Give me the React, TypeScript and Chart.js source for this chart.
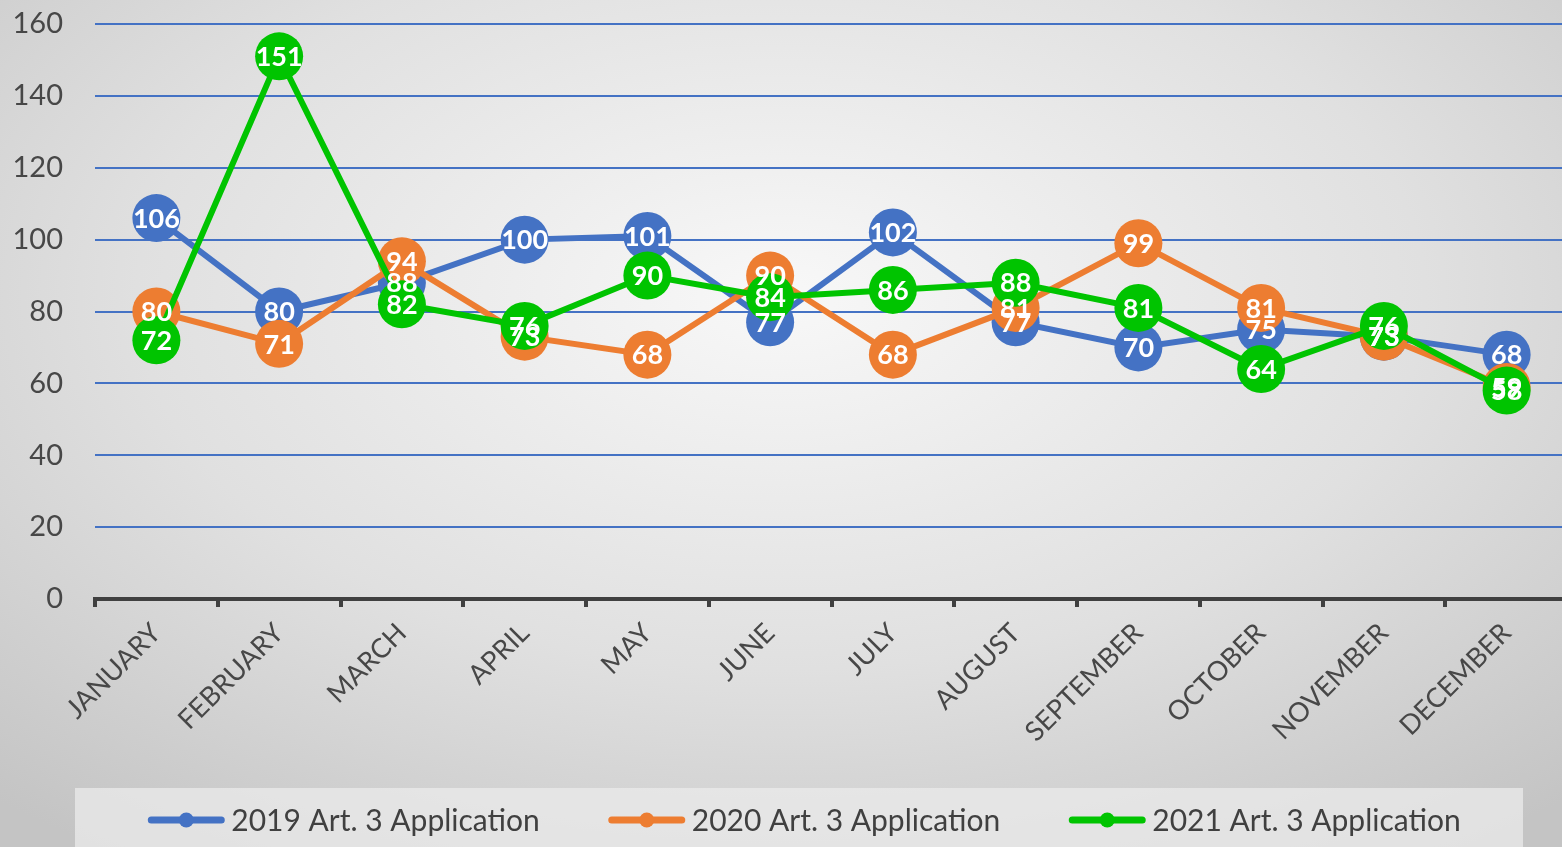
import React, { useEffect, useRef } from "react";
import { Chart, registerables } from "chart.js";

Chart.register(...registerables);

const months = ["JANUARY", "FEBRUARY", "MARCH", "APRIL", "MAY", "JUNE", "JULY", "AUGUST", "SEPTEMBER", "OCTOBER", "NOVEMBER", "DECEMBER"];
const series2019 = [106, 80, 88, 100, 101, 77, 102, 77, 70, 75, 73, 68];
const series2020 = [80, 71, 94, 73, 68, 90, 68, 81, 99, 81, 73, 59];
const series2021 = [72, 151, 82, 76, 90, 84, 86, 88, 81, 64, 76, 58];
const seriesNames = ["2019 Art. 3 Application", "2020 Art. 3 Application", "2021 Art. 3 Application"];
const seriesColors = ["#4472C4", "#ED7D31", "#00C400"];
const yMin = 0;
const yMax = 160;
const yStep = 20;

const FONT = "Lato, 'Open Sans', sans-serif";

const dataLabelPlugin = {
  id: "dataLabels",
  afterDatasetsDraw(chart: any) {
    const ctx = chart.ctx;
    ctx.save();
    ctx.font = `bold 27px ${FONT}`;
    ctx.fillStyle = "#ffffff";
    ctx.textAlign = "center";
    ctx.textBaseline = "middle";
    chart.data.datasets.forEach((ds: any, i: number) => {
      const meta = chart.getDatasetMeta(i);
      meta.data.forEach((pt: any, j: number) => {
        ctx.fillText(String(ds.data[j]), pt.x, pt.y + 1);
      });
    });
    ctx.restore();
  },
};

const legendPlugin = {
  id: "customLegend",
  afterDraw(chart: any) {
    const ctx = chart.ctx;
    ctx.save();
    ctx.fillStyle = "rgba(235,235,235,0.75)";
    ctx.fillRect(75, 788, 1448, 70);
    ctx.font = `30px ${FONT}`;
    const lineLen = 78;
    const gapLineText = 6;
    const gapItems = 68;
    const widths = chart.data.datasets.map((ds: any) => ctx.measureText(ds.label).width);
    const total = widths.reduce((a: number, w: number) => a + lineLen + gapLineText + w, 0) + gapItems * (widths.length - 1);
    let x = 804 - total / 2;
    const y = 820;
    chart.data.datasets.forEach((ds: any, i: number) => {
      ctx.strokeStyle = ds.borderColor;
      ctx.lineWidth = 7;
      ctx.lineCap = "round";
      ctx.beginPath();
      ctx.moveTo(x + 4, y);
      ctx.lineTo(x + lineLen - 4, y);
      ctx.stroke();
      ctx.fillStyle = ds.borderColor;
      ctx.beginPath();
      ctx.arc(x + lineLen / 2, y, 7.5, 0, Math.PI * 2);
      ctx.fill();
      ctx.fillStyle = "#404040";
      ctx.textAlign = "left";
      ctx.textBaseline = "middle";
      ctx.fillText(ds.label, x + lineLen + gapLineText, y + 1);
      x += lineLen + gapLineText + widths[i] + gapItems;
    });
    ctx.restore();
  },
};

export default function App() {
  const canvasRef = useRef<HTMLCanvasElement | null>(null);

  useEffect(() => {
    if (!canvasRef.current) return;
    const allSeries = [series2019, series2020, series2021];
    const chart = new Chart(canvasRef.current, {
      type: "line",
      data: {
        labels: months,
        datasets: allSeries.map((s, i) => ({
          label: seriesNames[i],
          data: s,
          borderColor: seriesColors[i],
          backgroundColor: seriesColors[i],
          pointBackgroundColor: seriesColors[i],
          pointBorderWidth: 0,
          pointRadius: 24,
          pointHoverRadius: 24,
          borderWidth: 6,
          tension: 0,
          order: 2 - i,
          clip: false as any,
        })),
      },
      options: {
        responsive: false,
        animation: false,
        layout: { padding: { top: 22, left: 0, right: 0, bottom: 0 } },
        plugins: {
          legend: { display: false },
          tooltip: { enabled: false },
        },
        scales: {
          x: {
            offset: true,
            afterFit: (s: any) => {
              s.height = 248;
              s.paddingLeft = 0;
              s.paddingRight = 0;
            },
            grid: {
              offset: true,
              drawOnChartArea: false,
              drawTicks: true,
              tickLength: 8,
              color: "#404040",
              lineWidth: 4,
            },
            border: { display: true, color: "#404040", width: 4 },
            ticks: {
              maxRotation: 45,
              minRotation: 45,
              color: "#474747",
              font: { family: FONT, size: 27 },
              padding: 10,
              autoSkip: false,
            },
          },
          y: {
            min: yMin,
            max: yMax,
            afterFit: (s: any) => {
              s.width = 95;
              s.paddingTop = 0;
              s.paddingBottom = 0;
            },
            grid: {
              color: "#4472C4",
              lineWidth: 2,
              drawTicks: false,
            },
            border: { display: false },
            ticks: {
              stepSize: yStep,
              color: "#474747",
              font: { family: FONT, size: 29 },
              padding: 32,
            },
          },
        },
      },
      plugins: [dataLabelPlugin, legendPlugin],
    });
    return () => chart.destroy();
  }, []);

  return (
    <div
      style={{
        position: "fixed",
        left: 0,
        top: 0,
        width: 1562,
        height: 847,
        overflow: "hidden",
        background: "radial-gradient(ellipse 75% 80% at 50% 35%, #f8f8f8 0%, #e0e0e0 55%, #c4c4c4 100%)",
      }}
    >
      <canvas ref={canvasRef} width={1592} height={847} style={{ display: "block" }} />
    </div>
  );
}
